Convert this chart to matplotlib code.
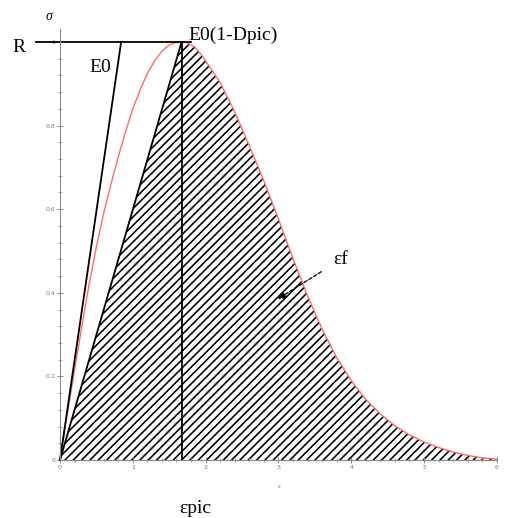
import matplotlib.pyplot as plt
from matplotlib.ticker import FixedLocator

eps = [0.0, 0.1, 0.2, 0.3, 0.4, 0.5, 0.6, 0.7, 0.8, 0.9, 1.0, 1.1, 1.2, 1.3,
       1.4, 1.5, 1.6, 1.67, 1.75, 1.85, 1.95, 2.0, 2.2, 2.4, 2.6, 2.8, 3.0,
       3.2, 3.4, 3.6, 3.8, 4.0, 4.2, 4.4, 4.6, 4.8, 5.0, 5.2, 5.4, 5.6, 5.8, 6.0]
sig = [0.0, 0.11, 0.215, 0.32, 0.42, 0.51, 0.59, 0.66, 0.725, 0.785, 0.84,
       0.885, 0.925, 0.955, 0.978, 0.993, 0.999, 1.0, 0.998, 0.988, 0.968,
       0.955, 0.903, 0.833, 0.752, 0.668, 0.577, 0.482, 0.393, 0.313, 0.245,
       0.19, 0.145, 0.11, 0.082, 0.06, 0.043, 0.03, 0.019, 0.011, 0.005, 0.002]

eps_pic = 1.67
R = 1.0
eps_e0 = 0.84          # strain where the E0 line reaches R
r_line_x = [-0.33, 1.8]
x_ticks = [0, 1, 2, 3, 4, 5, 6]
y_ticks = [0, 0.2, 0.4, 0.6, 0.8, 1]

plt.rcParams['hatch.linewidth'] = 1.15

fig = plt.figure(figsize=(5.22, 5.18), dpi=100)
ax = fig.add_axes([0, 0, 1, 1])
ax.set_xlim(-0.824, 6.346)
ax.set_ylim(-0.1388, 1.1005)

# hatched area: secant from origin to peak, then the softening branch
poly_x = [0.0, eps_pic] + [e for e in eps if e > eps_pic] + [6.0]
poly_y = [0.0, R] + [s for e, s in zip(eps, sig) if e > eps_pic] + [0.0]
ax.fill(poly_x, poly_y, facecolor='none', edgecolor='black', hatch='////', linewidth=0)

ax.plot(eps, sig, color='#ff6a6a', lw=1.0)
ax.plot(r_line_x, [R, R], color='black', lw=1.3)
ax.plot([0, eps_e0], [0, R], color='black', lw=1.3)
ax.plot([0, eps_pic], [0, R], color='black', lw=1.3)
ax.plot([eps_pic, eps_pic], [0, R], color='black', lw=1.3)

# axes through the origin, maple style
for side in ['top', 'right']:
    ax.spines[side].set_visible(False)
ax.spines['left'].set_position(('data', 0))
ax.spines['bottom'].set_position(('data', 0))
ax.spines['left'].set_bounds(0, 1.03)
ax.spines['bottom'].set_bounds(0, 6)
for side in ['left', 'bottom']:
    ax.spines[side].set_color('#888888')
    ax.spines[side].set_linewidth(0.8)
ax.set_xticks(x_ticks)
ax.set_yticks(y_ticks)
ax.set_xticklabels([str(t) for t in x_ticks])
ax.set_yticklabels(['0', '0.2', '0.4', '0.6', '0.8', '1'])
ax.xaxis.set_minor_locator(FixedLocator([i * 0.2 for i in range(31)]))
ax.yaxis.set_minor_locator(FixedLocator([i * 0.04 for i in range(26)]))
ax.tick_params(which='major', direction='inout', length=5, width=0.7, color='#888888',
               labelsize=4.5, labelcolor='#777777', pad=1)
ax.tick_params(which='minor', direction='inout', length=3, width=0.6, color='#999999')

serif = 'Liberation Serif'
ax.text(-0.56, 0.988, 'R', family=serif, fontsize=14, ha='center', va='center')
ax.text(0.55, 0.94, 'E0', family=serif, fontsize=14, ha='center', va='center')
ax.text(1.77, 1.017, 'E0(1-Dpic)', family=serif, fontsize=14, ha='left', va='center')
ax.text(1.854, -0.115, 'εpic', family=serif, fontsize=14, ha='center', va='center')
ax.text(-0.15, 1.062, 'σ', family=serif, fontsize=10, style='italic', ha='center', va='center')
ax.text(3.01, -0.064, 'ε', fontsize=4, color='#777777', ha='center', va='center')
ax.annotate('εf', xy=(2.99, 0.385), xytext=(3.86, 0.48), family=serif, fontsize=14,
            ha='center', va='center',
            arrowprops=dict(arrowstyle='-|>', color='black', lw=0.9, ls=(0, (3, 1.5)),
                            shrinkA=8, shrinkB=0, mutation_scale=12))

fig.savefig('out.png', dpi=100)
